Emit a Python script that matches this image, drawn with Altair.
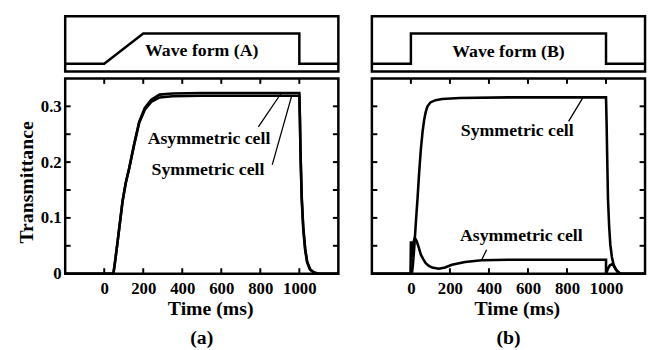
import altair as alt
import pandas as pd

# ---------------- data ----------------
# Panel (a): wave form (A)
ta = [-200, 0, 40, 47, 55, 67, 80, 94, 110, 128, 152, 179, 208, 241, 284, 350, 500, 700, 900, 1000,
      1003, 1006, 1012, 1020, 1030, 1040, 1055, 1075, 1100, 1200]
asym_a = [0, 0, 0, 0, 0.02, 0.053, 0.09, 0.13, 0.162, 0.189, 0.23, 0.272, 0.297, 0.312, 0.321, 0.323,
          0.324, 0.324, 0.324, 0.324, 0.28, 0.22, 0.14, 0.085, 0.045, 0.022, 0.008, 0.002, 0, 0]
sym_a = [0, 0, 0, 0, 0.02, 0.053, 0.09, 0.13, 0.162, 0.189, 0.229, 0.27, 0.294, 0.308, 0.316, 0.318,
         0.319, 0.319, 0.319, 0.319, 0.275, 0.215, 0.135, 0.08, 0.042, 0.02, 0.007, 0.002, 0, 0]

# Panel (b): wave form (B)
tb_sym = [-200, 0, 5, 10, 17, 25, 34, 42, 51, 60, 68, 76, 85, 100, 126, 160, 250, 500, 800, 1000,
          1003, 1006, 1010, 1016, 1022, 1030, 1039, 1050, 1060, 1075, 1200]
sym_b = [0, 0, 0, 0.015, 0.046, 0.09, 0.135, 0.18, 0.223, 0.255, 0.276, 0.29, 0.30, 0.307, 0.311,
         0.313, 0.315, 0.316, 0.316, 0.316, 0.27, 0.21, 0.135, 0.085, 0.052, 0.03, 0.016, 0.008,
         0.004, 0, 0]
tb_asym = [-200, -2, 0, 3, 7, 12, 20, 30, 40, 51, 63, 76, 92, 109, 143, 175, 210, 278, 362, 500,
           700, 1000, 1000, 1003, 1010, 1020, 1030, 1040, 1050, 1060, 1075, 1200]
asym_b = [0, 0, 0.058, 0.04, 0.03, 0.055, 0.064, 0.058, 0.047, 0.034, 0.026, 0.019, 0.014, 0.011,
          0.009, 0.011, 0.016, 0.021, 0.024, 0.025, 0.025, 0.025, 0.0, 0.002, 0.009, 0.015, 0.017,
          0.014, 0.008, 0.003, 0, 0]

# Drive wave forms (0 = low level, 1 = high level)
wave_a_t = [-200, 0, 200, 1000, 1000, 1200]
wave_a_v = [0, 0, 1, 1, 0, 0]
wave_b_t = [-200, 0, 0, 1000, 1000, 1200]
wave_b_v = [0, 0, 1, 1, 0, 0]
wave_titles = ["Wave form (A)", "Wave form (B)"]
wave_title_t = [500, 500]
wave_title_v = [0.43, 0.37]

# Annotations
notes_a = ["Asymmetric cell", "Symmetric cell"]
notes_a_t = [537, 532]
notes_a_y = [0.2416, 0.186]
lead_a_t1 = [790, 861]
lead_a_y1 = [0.263, 0.195]
lead_a_t2 = [906, 962]
lead_a_y2 = [0.323, 0.32]

notes_b = ["Symmetric cell", "Asymmetric cell"]
notes_b_t = [545, 566]
notes_b_y = [0.255, 0.067]
lead_b_t1 = [808, 388]
lead_b_y1 = [0.273, 0.043]
lead_b_t2 = [884, 362]
lead_b_y2 = [0.317, 0.024]

x_ticks = [0, 200, 400, 600, 800, 1000]
y_ticks = [0.05, 0.1, 0.15, 0.2, 0.25, 0.3]
y_labels = [0, 0.1, 0.2, 0.3]
captions = ["(a)", "(b)"]

# ---------------- styling ----------------
FONT = "Liberation Serif"
W, H, WH = 277, 198, 56
TICK = 5.5
xs = alt.Scale(domain=[-200, 1200], nice=False, zero=False)
ys = alt.Scale(domain=[0, 0.35], nice=False, zero=False)
ws = alt.Scale(domain=[-0.26, 1.57], nice=False, zero=False)


def series_df(t, v, name):
    return pd.DataFrame({"t": t, "T": v, "cell": name, "i": list(range(len(t)))})


def inward_ticks():
    xdf = pd.DataFrame({"xt": x_ticks})
    ydf = pd.DataFrame({"yt": y_ticks})
    st = dict(color="black", strokeWidth=2)
    xb = alt.Chart(xdf).mark_rule(**st).encode(
        x=alt.X("xt:Q", scale=xs, axis=None), y=alt.value(H), y2=alt.value(H - TICK))
    xt = alt.Chart(xdf).mark_rule(**st).encode(
        x=alt.X("xt:Q", scale=xs, axis=None), y=alt.value(0), y2=alt.value(TICK))
    yl = alt.Chart(ydf).mark_rule(**st).encode(
        y=alt.Y("yt:Q", scale=ys, axis=None), x=alt.value(0), x2=alt.value(TICK))
    yr = alt.Chart(ydf).mark_rule(**st).encode(
        y=alt.Y("yt:Q", scale=ys, axis=None), x=alt.value(W), x2=alt.value(W - TICK))
    return [xb, xt, yl, yr]


def main_panel(df, notes, nt, ny, l_t1, l_y1, l_t2, l_y2, caption, show_y):
    base = alt.Chart(df)
    if show_y:
        yaxis = alt.Axis(orient="left", values=y_labels, ticks=False, tickSize=0, domain=False,
                         grid=False, labelFlush=False, labelPadding=4,
                         labelExpr="datum.value == 0 ? '0' : format(datum.value, '.1f')",
                         title="Transmittance", titlePadding=4, titleY=105)
    else:
        yaxis = None
    lines = base.mark_line(color="black", strokeWidth=2.6, clip=True).encode(
        x=alt.X("t:Q", scale=xs,
                axis=alt.Axis(orient="bottom", values=x_ticks, ticks=False, tickSize=0,
                              domain=False, grid=False, labelFlush=False, labelPadding=7,
                              format="d", title="Time (ms)", titlePadding=2, titleX=147)),
        y=alt.Y("T:Q", scale=ys, axis=yaxis),
        detail="cell:N",
        order="i:Q",
    )
    lead_df = pd.DataFrame({"t1": l_t1, "y1": l_y1, "t2": l_t2, "y2": l_y2})
    leaders = alt.Chart(lead_df).mark_rule(color="black", strokeWidth=1.3).encode(
        x=alt.X("t1:Q", scale=xs, axis=None), y=alt.Y("y1:Q", scale=ys, axis=None),
        x2="t2:Q", y2="y2:Q",
    )
    note_df = pd.DataFrame({"label": notes, "t": nt, "y": ny})
    texts = alt.Chart(note_df).mark_text(font=FONT, fontSize=18, fontWeight="bold",
                                          color="black", align="center",
                                          baseline="middle").encode(
        x=alt.X("t:Q", scale=xs, axis=None), y=alt.Y("y:Q", scale=ys, axis=None),
        text="label:N",
    )
    return alt.layer(lines, *inward_ticks(), leaders, texts).resolve_axis(
        x="independent", y="independent"
    ).properties(
        width=W, height=H,
        title=alt.TitleParams(caption, orient="bottom", font=FONT, fontSize=20,
                              fontWeight="bold", color="black", offset=10),
    )


def wave_panel(t, v, title, tt, tv):
    df = pd.DataFrame({"t": t, "v": v, "i": list(range(len(t)))})
    line = alt.Chart(df).mark_line(color="black", strokeWidth=2.5, clip=True).encode(
        x=alt.X("t:Q", scale=xs, axis=None),
        y=alt.Y("v:Q", scale=ws, axis=None),
        order="i:Q",
    )
    tdf = pd.DataFrame({"label": [title], "t": [tt], "v": [tv]})
    txt = alt.Chart(tdf).mark_text(font=FONT, fontSize=18, fontWeight="bold", color="black",
                                   align="center", baseline="middle").encode(
        x=alt.X("t:Q", scale=xs, axis=None),
        y=alt.Y("v:Q", scale=ws, axis=None),
        text="label:N",
    )
    return alt.layer(line, txt).properties(width=W, height=WH)


df_a = pd.concat([series_df(ta, asym_a, "Asymmetric cell"), series_df(ta, sym_a, "Symmetric cell")])
df_b = pd.concat([series_df(tb_sym, sym_b, "Symmetric cell"),
                  series_df(tb_asym, asym_b, "Asymmetric cell")])

wave_a = wave_panel(wave_a_t, wave_a_v, wave_titles[0], wave_title_t[0], wave_title_v[0])
wave_b = wave_panel(wave_b_t, wave_b_v, wave_titles[1], wave_title_t[1], wave_title_v[1])
main_a = main_panel(df_a, notes_a, notes_a_t, notes_a_y, lead_a_t1, lead_a_y1, lead_a_t2,
                    lead_a_y2, captions[0], True)
main_b = main_panel(df_b, notes_b, notes_b_t, notes_b_y, lead_b_t1, lead_b_y1, lead_b_t2,
                    lead_b_y2, captions[1], False)

chart = alt.concat(wave_a, wave_b, main_a, main_b, columns=2,
                   spacing={"row": 7, "column": 34}, bounds="flush").properties(
    padding={"left": 7, "top": 4, "right": 0, "bottom": 0},
    background="white",
).configure_view(
    stroke="black", strokeWidth=2.5
).configure_axis(
    labelFont=FONT, titleFont=FONT, labelFontWeight="bold", titleFontWeight="bold",
    labelFontSize=17, titleFontSize=20, labelColor="black", titleColor="black",
)

chart.save("out.html", embed_options={"renderer": "svg", "actions": False})
